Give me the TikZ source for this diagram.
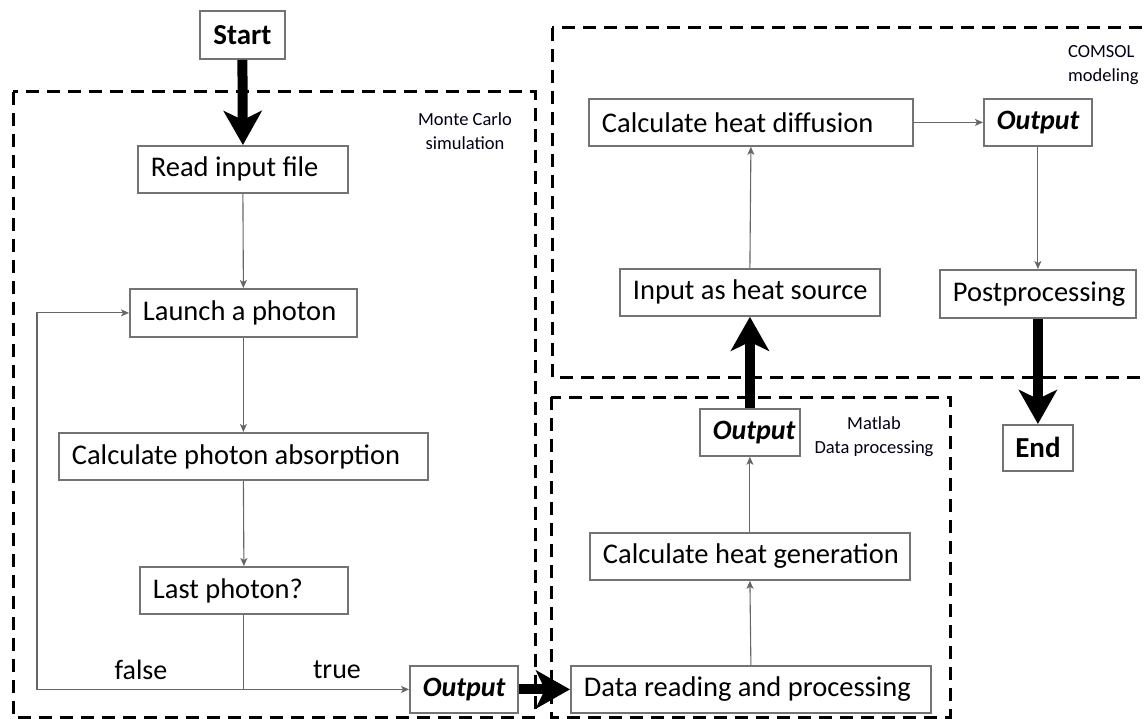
\documentclass[tikz,border=0pt]{standalone}
\usepackage{fontspec}
\setmainfont{Carlito}
\usetikzlibrary{arrows.meta,positioning}
\newcommand{\lft}[2]{\makebox[#1][l]{#2}}
\tikzset{
  box/.style={draw=black!55, line width=1.8pt, fill=white, inner xsep=13pt, inner ysep=0pt, font=\fontsize{28.5}{30}\selectfont, anchor=north west},
  outbox/.style={box, font=\fontsize{28}{30}\selectfont\bfseries\itshape},
  cbox/.style={box, inner xsep=0pt, font=\fontsize{29}{30}\selectfont\bfseries},
  grp/.style={draw=black, line width=3pt, dash pattern=on 13pt off 8pt},
  grplabel/.style={font=\fontsize{18.5}{24}\selectfont, text=black!92!blue, inner sep=0pt},
  thin/.style={draw=black!60, line width=1.1pt, -{Stealth[length=8pt,width=7pt,inset=2pt]}},
  thinline/.style={draw=black!60, line width=1.1pt},
  big/.style={draw=black, line width=10pt, -{Stealth[length=34pt,width=38pt,inset=9pt]}},
  lbl/.style={font=\fontsize{28}{30}\selectfont}
}
\begin{document}
\begin{tikzpicture}[x=1pt,y=-1pt]
\useasboundingbox (0,0) rectangle (1148,719);
\clip (0,0) rectangle (1148,719);
% group boxes
\draw[grp] (13,92) rectangle (535,717);
\draw[grp] (551,397) rectangle (950,717);
\draw[grp] (552,28) rectangle (1170,377);
\node[grplabel, align=center] (lmc) at (465,131) {Monte Carlo\\simulation};
\node[grplabel, align=center] (lml) at (874,437) {Matlab\\Data processing};
\node[grplabel, align=left, anchor=west] (lcs) at (1068,65) {COMSOL\\modeling};
% Monte Carlo nodes
\node[cbox, minimum width=85pt, minimum height=48pt] (start) at (199,10) {Start};
\node[box, minimum height=47pt] (read) at (137,145) {\lft{184pt}{Read input file}};
\node[box, minimum height=48pt] (launch) at (129,288) {\lft{201pt}{Launch a photon}};
\node[box, minimum height=47pt] (absorb) at (58,432) {\lft{343pt}{Calculate photon absorption}};
\node[box, minimum height=47pt] (last) at (139,566) {\lft{182pt}{Last photon?}};
\node[outbox, minimum height=47pt] (out1) at (409,665) {\lft{82pt}{Output}};
% Matlab nodes
\node[box, minimum height=47pt] (dread) at (570,665) {\lft{334pt}{Data reading and processing}};
\node[box, minimum height=47pt] (hgen) at (589,532) {\lft{294pt}{Calculate heat generation}};
\node[outbox, minimum height=47pt] (out2) at (699,408) {\lft{74pt}{Output}};
% COMSOL nodes
\node[box, minimum height=47pt] (hsrc) at (619,268) {\lft{234pt}{Input as heat source}};
\node[box, minimum height=47pt] (hdiff) at (588,98) {\lft{298pt}{Calculate heat diffusion}};
\node[outbox, minimum height=47pt] (out3) at (983,98) {\lft{82pt}{Output}};
\node[box, minimum height=48pt] (post) at (939,269) {\lft{170pt}{Postprocessing}};
\node[cbox, minimum width=70pt, minimum height=46pt] (end) at (1002,424) {End};
% connectors
\draw[big] (start.south) -- (read.north);
\draw[thin] (read.south) -- (launch.north);
\draw[thin] (launch.south) -- (absorb.north);
\draw[thin] (absorb.south) -- (last.north);
\coordinate (split) at (last.south |- out1.west);
\coordinate (lbot) at (37,0 |- out1.west);
\draw[thinline] (last.south) -- (split);
\draw[thin] (split) -- (lbot) -- (lbot |- launch.west) -- (launch.west);
\draw[thin] (split) -- (out1.west);
\node[lbl] (lfalse) at (141,670) {false};
\node[lbl] (ltrue) at (337,670) {true};
\draw[big] (out1.east) -- (dread.west);
\draw[thin] (dread.north) -- (hgen.south);
\draw[thin] (hgen.north) -- (out2.south);
\draw[big] (out2.north) -- (hsrc.south);
\draw[thin] (hsrc.north) -- (hdiff.south);
\draw[thin] (hdiff.east) -- (out3.west);
\draw[thin] (out3.south) -- (post.north);
\draw[big] (post.south) -- (end.north);
\end{tikzpicture}
\end{document}
